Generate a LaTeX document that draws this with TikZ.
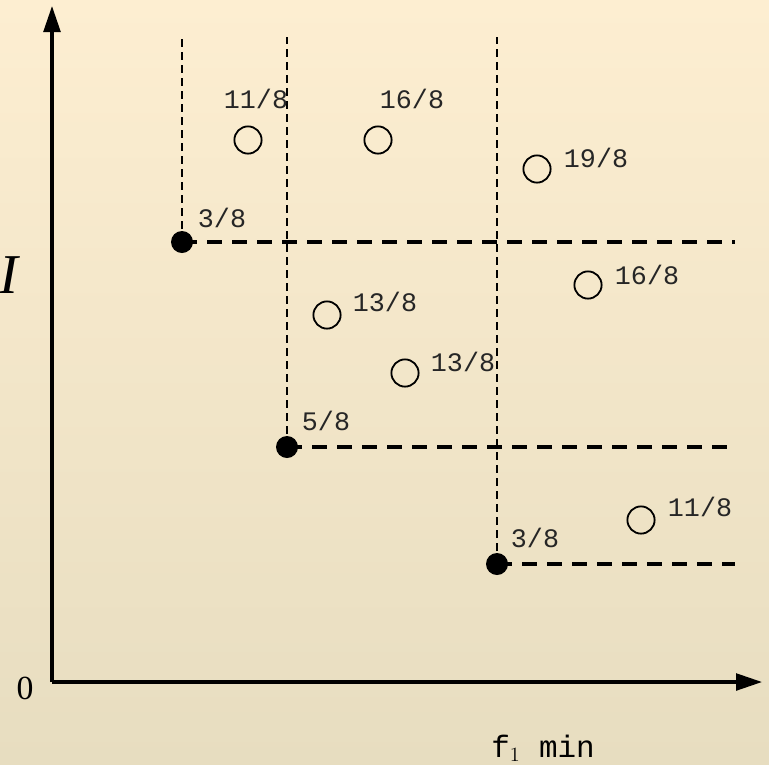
\documentclass[tikz,border=0pt]{standalone}
\usepackage{fontspec}
\newfontfamily\monofont{Liberation Mono}
\newfontfamily\seriffont{Liberation Serif}
\usetikzlibrary{arrows.meta}

\definecolor{bgtop}{RGB}{253,238,209}
\definecolor{bgbot}{RGB}{231,221,192}

\tikzset{
    val/.style={font=\monofont\fontsize{19}{19}\selectfont, inner sep=0pt, text=black!85},
    best/.style={circle, fill=black, inner sep=0pt, minimum size=0.55cm},
    cand/.style={circle, draw, line width=1.3pt, inner sep=0pt, minimum size=0.68cm},
    hdash/.style={line width=2.2pt, dash pattern=on 0.375cm off 0.25cm},
    vdash/.style={line width=1.4pt, dash pattern=on 0.2cm off 0.125cm},
    axis/.style={line width=2.2pt, -{Triangle[length=0.65cm,width=0.42cm]}}
}

\begin{document}
\begin{tikzpicture}[x=0.025cm, y=-0.025cm]
    \useasboundingbox (0,0) rectangle (769,764);
    % background
    \shade[top color=bgtop, bottom color=bgbot] (0,0) rectangle (769,764);

    % axes
    \coordinate (o) at (52,682);
    \coordinate (ytop) at (52,6);
    \coordinate (xend) at (762,682);
    \draw[axis] (o) -- (ytop);
    \draw[axis] (o) -- (xend);
    \node[font=\seriffont\fontsize{24}{24}\selectfont] (zero) at (25,688) {0};
    \node[font=\seriffont\itshape\fontsize{40}{40}\selectfont] (ylab) at (9,275) {I};
    \node[font=\monofont\fontsize{22}{22}\selectfont, anchor=base] (xlab) at (543,757) {f$_1$ min};

    % non-dominated points
    \node[best] (p1) at (182,242) {};
    \node[best] (p2) at (287,447) {};
    \node[best] (p3) at (497,564) {};
    \coordinate (t1) at (182,37);
    \coordinate (t2) at (287,37);
    \coordinate (t3) at (497,37);
    \coordinate (e1) at (735,242);
    \coordinate (e2) at (735,447);
    \coordinate (e3) at (735,564);
    \draw[vdash] (p1.center) -- (t1);
    \draw[vdash] (p2.center) -- (t2);
    \draw[vdash] (p3.center) -- (t3);
    \draw[hdash] (p1.center) -- (e1);
    \draw[hdash] (p2.center) -- (e2);
    \draw[hdash] (p3.center) -- (e3);
    \node[val] (l1) at (222,218) {3/8};
    \node[val] (l2) at (326,421) {5/8};
    \node[val] (l3) at (535,538) {3/8};

    % dominated points
    \node[cand] (c1) at (248,140) {};
    \node[cand] (c2) at (378,140) {};
    \node[cand] (c3) at (537,169) {};
    \node[cand] (c4) at (588,285) {};
    \node[cand] (c5) at (327,315) {};
    \node[cand] (c6) at (405,373) {};
    \node[cand] (c7) at (641,520) {};
    \node[val] (m1) at (256,99) {11/8};
    \node[val] (m2) at (412,99) {16/8};
    \node[val] (m3) at (596,158) {19/8};
    \node[val] (m4) at (647,275) {16/8};
    \node[val] (m5) at (385,302) {13/8};
    \node[val] (m6) at (463,362) {13/8};
    \node[val] (m7) at (700,507) {11/8};
\end{tikzpicture}
\end{document}
